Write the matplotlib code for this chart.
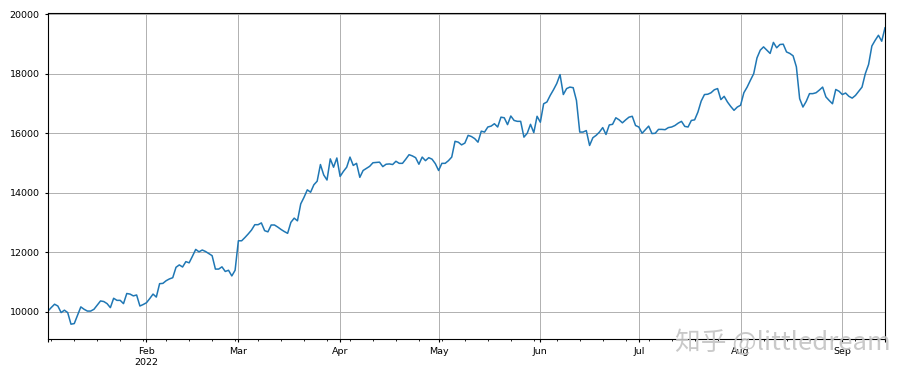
import numpy as np
import pandas as pd
import matplotlib
matplotlib.use('Agg')
import matplotlib.pyplot as plt

# daily values, 2022-01-02 .. 2022-09-14
start_date = '2022-01-02'
values = [
    10030, 10150, 10260, 10200, 9980, 10060, 9980, 9590, 9610, 9890,
    10170, 10090, 10030, 10030, 10090, 10230, 10370, 10350, 10280, 10145,
    10460, 10390, 10390, 10280, 10620, 10600, 10540, 10570, 10200, 10250,
    10310, 10450, 10600, 10500, 10950, 10960, 11050, 11110, 11150, 11500,
    11580, 11510, 11690, 11650, 11870, 12100, 12020, 12080, 12030, 11960,
    11890, 11440, 11440, 11515, 11360, 11400, 11210, 11400, 12390, 12390,
    12500, 12620, 12750, 12930, 12930, 12990, 12730, 12690, 12920, 12920,
    12850, 12770, 12700, 12640, 13010, 13150, 13060, 13630, 13850, 14100,
    14020, 14270, 14390, 14950, 14600, 14430, 15140, 14860, 15170, 14550,
    14720, 14860, 15200, 14920, 14990, 14520, 14750, 14820, 14890, 15010,
    15020, 15030, 14880, 14960, 14970, 14950, 15060, 14990, 14990, 15130,
    15280, 15240, 15180, 14960, 15200, 15080, 15180, 15130, 14980, 14750,
    14990, 14990, 15080, 15200, 15730, 15700, 15610, 15670, 15930, 15890,
    15820, 15700, 16070, 16040, 16210, 16240, 16320, 16210, 16540, 16520,
    16290, 16580, 16430, 16400, 16400, 15870, 16000, 16300, 16020, 16570,
    16370, 16990, 17050, 17270, 17460, 17670, 17970, 17300, 17500, 17550,
    17530, 17100, 16040, 16040, 16090, 15590, 15850, 15930, 16040, 16190,
    15960, 16280, 16300, 16520, 16450, 16350, 16450, 16540, 16570, 16260,
    16210, 16000, 16120, 16240, 15990, 16000, 16130, 16130, 16120, 16190,
    16210, 16260, 16340, 16400, 16230, 16210, 16430, 16450, 16710, 17080,
    17300, 17310, 17360, 17460, 17500, 17130, 17240, 17050, 16900, 16770,
    16880, 16940, 17360, 17550, 17780, 18000, 18530, 18790, 18900, 18790,
    18680, 19050, 18870, 18980, 18990, 18730, 18680, 18600, 18230, 17160,
    16880, 17070, 17330, 17330, 17360, 17450, 17550, 17220, 17100, 16990,
    17470, 17410, 17300, 17350, 17240, 17180, 17270, 17410, 17550, 18000,
    18310, 18930, 19120, 19290, 19090, 19540,
]

dates = pd.date_range(start_date, periods=len(values), freq='D')
series = pd.Series(values, index=dates)

plt.rcParams['font.size'] = 6.8
plt.rcParams['xtick.major.size'] = 2.5
plt.rcParams['ytick.major.size'] = 2.5
plt.rcParams['xtick.minor.size'] = 1.5
plt.rcParams['axes.linewidth'] = 0.8

fig = plt.figure(figsize=(9.16, 3.75), dpi=100)
ax = fig.add_axes([48/916, 1-339/375, (885-48)/916, (339-13)/375])
series.plot(ax=ax, color='#1f77b4', linewidth=1.1)
ax.grid(True, color='#b0b0b0', linewidth=0.7)
ax.set_xlabel('')

# zhihu watermark
fig.text(891/916, 1-343/375, '知乎 @littledream', ha='right', va='center',
         fontsize=18.5, color='#c4c4c4', alpha=0.9,
         family=['Noto Sans CJK SC', 'DejaVu Sans'])

fig.savefig('out.png', dpi=100)
